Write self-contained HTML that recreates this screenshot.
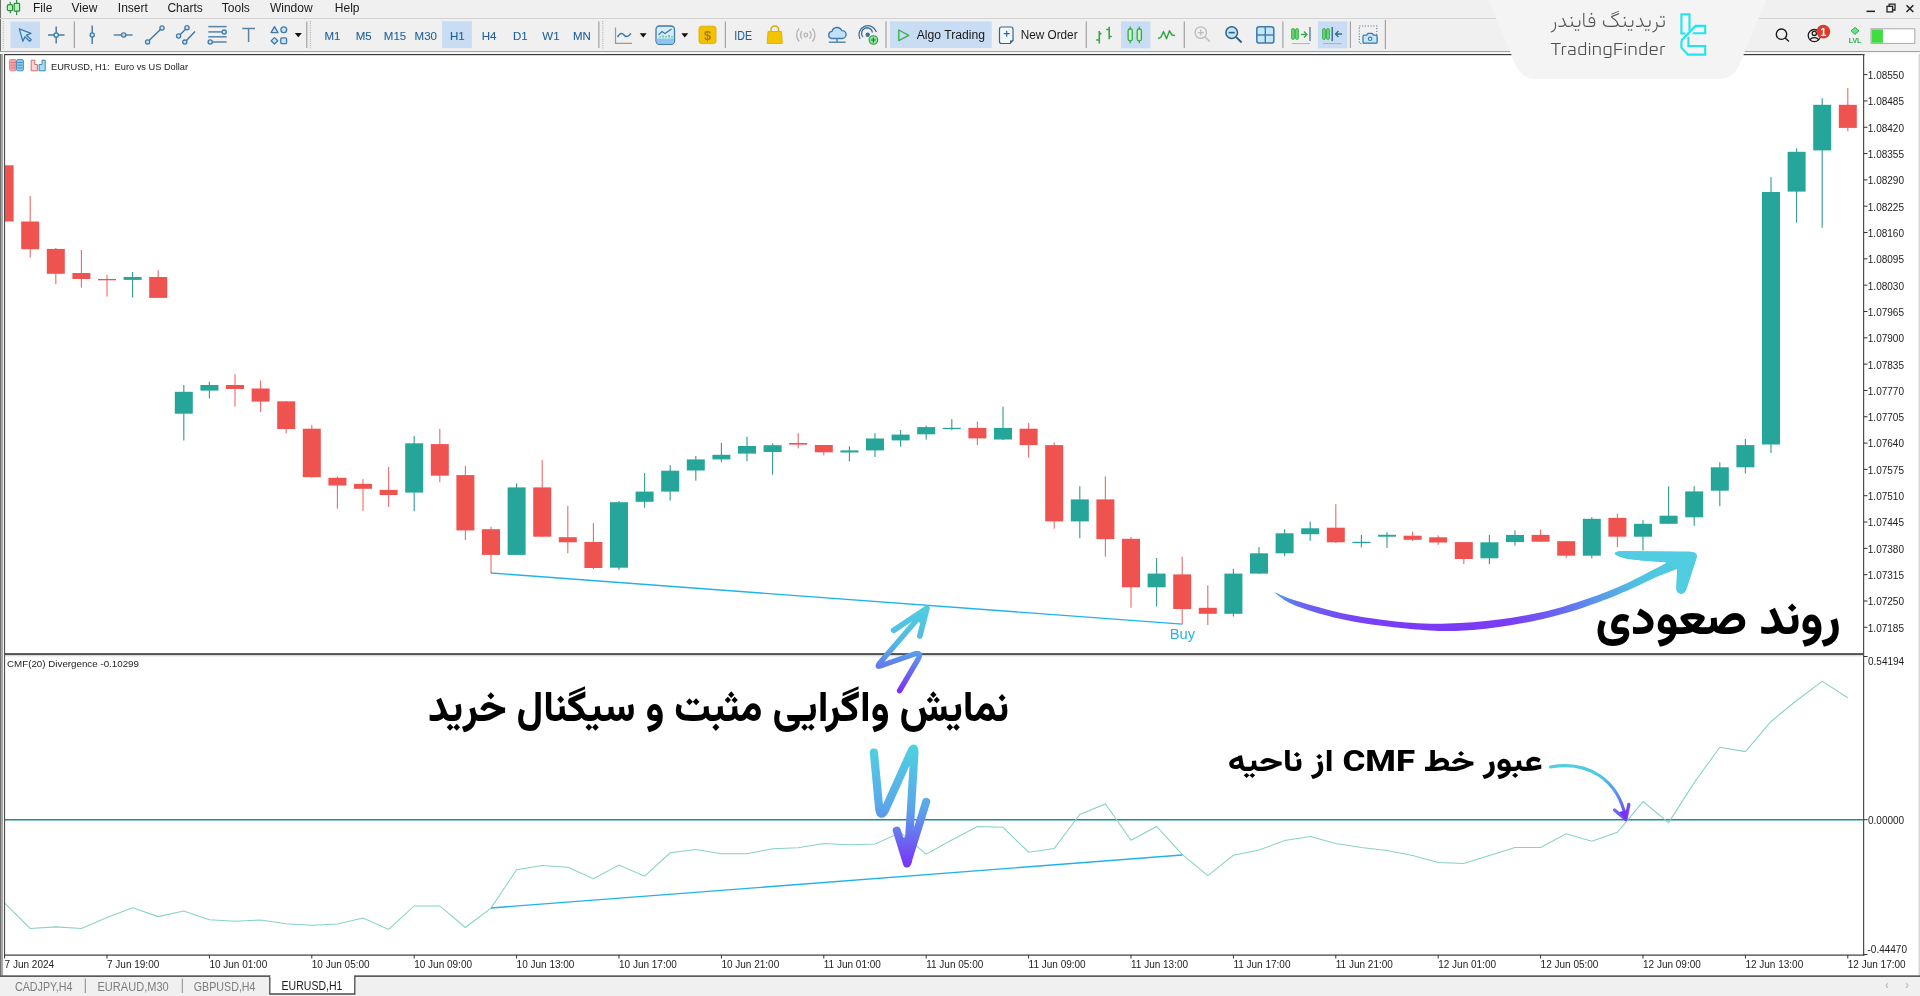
<!DOCTYPE html>
<html><head><meta charset="utf-8"><title>MT5 EURUSD H1 CMF Divergence</title>
<style>
html,body{margin:0;padding:0;width:1920px;height:996px;overflow:hidden;background:#f0f0f0;}
svg{position:absolute;left:0;top:0;display:block;will-change:transform}
text{font-family:"Liberation Sans",Arial,sans-serif;}
.ax{font-size:10px;fill:#222;}
.mn{font-size:12px;fill:#1a1a1a;}
.tf{font-size:11.5px;fill:#1f5e98;stroke:#1f5e98;stroke-width:0.08px;}
.fa{font-family:"Vazirmatn","DejaVu Sans",sans-serif;font-weight:800;fill:#000;}
</style></head><body>
<svg width="1920" height="996" viewBox="0 0 1920 996">
<defs>
<clipPath id="mainclip"><rect x="5" y="55.5" width="1858.5" height="597.5"/></clipPath>
<clipPath id="indclip"><rect x="5" y="655" width="1858.5" height="299.5"/></clipPath>
</defs>

<rect x="0" y="0" width="1920" height="996" fill="#f0f0f0"/>
<rect x="4" y="54" width="1915" height="922" fill="#ffffff"/>
<rect x="0" y="0" width="1" height="996" fill="#6e706e"/>
<rect x="1" y="52" width="2" height="944" fill="#a6a8a6"/>
<rect x="3" y="52" width="1" height="924" fill="#f5f7f5"/>
<rect x="1918.5" y="52" width="1.5" height="944" fill="#d6d6d6"/>
<rect x="0" y="18" width="1920" height="1" fill="#d2d2d2"/>
<rect x="0" y="51" width="1920" height="1" fill="#a0a0a0"/>
<rect x="0" y="52" width="1920" height="2" fill="#f7f7f7"/>
<g clip-path="url(#mainclip)"><rect x="4.02" y="165.3" width="1.15" height="56.2" fill="#ef6f72"/>
<rect x="-4.4" y="165.3" width="18" height="56.2" fill="#ef5350"/>
<rect x="29.63" y="195.8" width="1.15" height="61.9" fill="#ef6f72"/>
<rect x="21.2" y="221.5" width="18" height="27.7" fill="#ef5350"/>
<rect x="55.23" y="248" width="1.15" height="36.2" fill="#ef6f72"/>
<rect x="46.8" y="248.9" width="18" height="24.9" fill="#ef5350"/>
<rect x="80.83" y="250" width="1.15" height="37.5" fill="#ef6f72"/>
<rect x="72.4" y="273" width="18" height="6" fill="#ef5350"/>
<rect x="106.42" y="275" width="1.15" height="21.6" fill="#ef6f72"/>
<rect x="98" y="279" width="18" height="1.3" fill="#ef5350"/>
<rect x="132.03" y="272" width="1.15" height="25.6" fill="#3c9e94"/>
<rect x="123.6" y="277" width="18" height="2.9" fill="#26a69a"/>
<rect x="157.63" y="270.2" width="1.15" height="27.8" fill="#ef6f72"/>
<rect x="149.2" y="277" width="18" height="20.9" fill="#ef5350"/>
<rect x="183.23" y="385" width="1.15" height="55.5" fill="#3c9e94"/>
<rect x="174.8" y="391.8" width="18" height="21.9" fill="#26a69a"/>
<rect x="208.83" y="381.7" width="1.15" height="16.9" fill="#3c9e94"/>
<rect x="200.4" y="385" width="18" height="5.6" fill="#26a69a"/>
<rect x="234.43" y="374.2" width="1.15" height="32.4" fill="#ef6f72"/>
<rect x="226" y="385" width="18" height="4" fill="#ef5350"/>
<rect x="260.03" y="380.5" width="1.15" height="31.4" fill="#ef6f72"/>
<rect x="251.6" y="388.5" width="18" height="13.1" fill="#ef5350"/>
<rect x="285.63" y="401" width="1.15" height="32.3" fill="#ef6f72"/>
<rect x="277.2" y="401.3" width="18" height="27.7" fill="#ef5350"/>
<rect x="311.23" y="425" width="1.15" height="52.5" fill="#ef6f72"/>
<rect x="302.8" y="428.7" width="18" height="48.5" fill="#ef5350"/>
<rect x="336.83" y="476.5" width="1.15" height="32.2" fill="#ef6f72"/>
<rect x="328.4" y="477.8" width="18" height="7.7" fill="#ef5350"/>
<rect x="362.43" y="479.1" width="1.15" height="31.7" fill="#ef6f72"/>
<rect x="354" y="483.9" width="18" height="4.9" fill="#ef5350"/>
<rect x="388.03" y="466.9" width="1.15" height="40.1" fill="#ef6f72"/>
<rect x="379.6" y="489.9" width="18" height="5.1" fill="#ef5350"/>
<rect x="413.63" y="436" width="1.15" height="75.2" fill="#3c9e94"/>
<rect x="405.2" y="443.3" width="18" height="49.3" fill="#26a69a"/>
<rect x="439.23" y="428.8" width="1.15" height="53.5" fill="#ef6f72"/>
<rect x="430.8" y="444.1" width="18" height="31.6" fill="#ef5350"/>
<rect x="464.83" y="465.8" width="1.15" height="74.4" fill="#ef6f72"/>
<rect x="456.4" y="475.1" width="18" height="55.3" fill="#ef5350"/>
<rect x="490.43" y="526.7" width="1.15" height="46.3" fill="#ef6f72"/>
<rect x="482" y="529.2" width="18" height="25.7" fill="#ef5350"/>
<rect x="516.02" y="483.4" width="1.15" height="71.6" fill="#3c9e94"/>
<rect x="507.6" y="487.4" width="18" height="67.5" fill="#26a69a"/>
<rect x="541.62" y="460.1" width="1.15" height="76.9" fill="#ef6f72"/>
<rect x="533.2" y="487.4" width="18" height="49.3" fill="#ef5350"/>
<rect x="567.23" y="505.9" width="1.15" height="47.4" fill="#ef6f72"/>
<rect x="558.8" y="537.2" width="18" height="5.1" fill="#ef5350"/>
<rect x="592.83" y="523.2" width="1.15" height="45.8" fill="#ef6f72"/>
<rect x="584.4" y="542" width="18" height="26" fill="#ef5350"/>
<rect x="618.43" y="501" width="1.15" height="69" fill="#3c9e94"/>
<rect x="610" y="502.2" width="18" height="65.5" fill="#26a69a"/>
<rect x="644.02" y="472.9" width="1.15" height="34.9" fill="#3c9e94"/>
<rect x="635.6" y="491.6" width="18" height="10.2" fill="#26a69a"/>
<rect x="669.62" y="465.1" width="1.15" height="35.5" fill="#3c9e94"/>
<rect x="661.2" y="470.7" width="18" height="20.9" fill="#26a69a"/>
<rect x="695.23" y="456" width="1.15" height="24.7" fill="#3c9e94"/>
<rect x="686.8" y="459.4" width="18" height="11.1" fill="#26a69a"/>
<rect x="720.83" y="442.8" width="1.15" height="19.2" fill="#3c9e94"/>
<rect x="712.4" y="454.8" width="18" height="4.6" fill="#26a69a"/>
<rect x="746.43" y="436.7" width="1.15" height="24.5" fill="#3c9e94"/>
<rect x="738" y="446" width="18" height="7.6" fill="#26a69a"/>
<rect x="772.02" y="443.4" width="1.15" height="31.3" fill="#3c9e94"/>
<rect x="763.6" y="445.2" width="18" height="6.8" fill="#26a69a"/>
<rect x="797.62" y="432.9" width="1.15" height="15.4" fill="#ef6f72"/>
<rect x="789.2" y="443" width="18" height="1.6" fill="#ef5350"/>
<rect x="823.23" y="445" width="1.15" height="10.4" fill="#ef6f72"/>
<rect x="814.8" y="445" width="18" height="7.3" fill="#ef5350"/>
<rect x="848.83" y="446.3" width="1.15" height="15" fill="#3c9e94"/>
<rect x="840.4" y="450.4" width="18" height="2.1" fill="#26a69a"/>
<rect x="874.43" y="433.2" width="1.15" height="23.8" fill="#3c9e94"/>
<rect x="866" y="438.5" width="18" height="11.9" fill="#26a69a"/>
<rect x="900.02" y="430" width="1.15" height="16.7" fill="#3c9e94"/>
<rect x="891.6" y="434.6" width="18" height="5.8" fill="#26a69a"/>
<rect x="925.62" y="425.8" width="1.15" height="13.8" fill="#3c9e94"/>
<rect x="917.2" y="427.1" width="18" height="7.2" fill="#26a69a"/>
<rect x="951.23" y="419.1" width="1.15" height="11.2" fill="#3c9e94"/>
<rect x="942.8" y="427.8" width="18" height="1.3" fill="#26a69a"/>
<rect x="976.83" y="421.5" width="1.15" height="23.6" fill="#ef6f72"/>
<rect x="968.4" y="427.9" width="18" height="10.5" fill="#ef5350"/>
<rect x="1002.43" y="406.6" width="1.15" height="33.4" fill="#3c9e94"/>
<rect x="994" y="427.9" width="18" height="11.6" fill="#26a69a"/>
<rect x="1028.02" y="423.1" width="1.15" height="34.6" fill="#ef6f72"/>
<rect x="1019.6" y="428.7" width="18" height="16.4" fill="#ef5350"/>
<rect x="1053.62" y="442.4" width="1.15" height="86.3" fill="#ef6f72"/>
<rect x="1045.2" y="445.1" width="18" height="76.3" fill="#ef5350"/>
<rect x="1079.22" y="486.2" width="1.15" height="52.1" fill="#3c9e94"/>
<rect x="1070.8" y="499.4" width="18" height="22" fill="#26a69a"/>
<rect x="1104.82" y="476.4" width="1.15" height="80.3" fill="#ef6f72"/>
<rect x="1096.4" y="499.4" width="18" height="39.7" fill="#ef5350"/>
<rect x="1130.42" y="537" width="1.15" height="70.8" fill="#ef6f72"/>
<rect x="1122" y="538.8" width="18" height="48.5" fill="#ef5350"/>
<rect x="1156.02" y="558" width="1.15" height="48.5" fill="#3c9e94"/>
<rect x="1147.6" y="573.6" width="18" height="13.7" fill="#26a69a"/>
<rect x="1181.62" y="556.7" width="1.15" height="67.5" fill="#ef6f72"/>
<rect x="1173.2" y="574.4" width="18" height="34.6" fill="#ef5350"/>
<rect x="1207.22" y="585.3" width="1.15" height="39.7" fill="#ef6f72"/>
<rect x="1198.8" y="607.8" width="18" height="6" fill="#ef5350"/>
<rect x="1232.83" y="568.8" width="1.15" height="47.7" fill="#3c9e94"/>
<rect x="1224.4" y="573.6" width="18" height="40.2" fill="#26a69a"/>
<rect x="1258.42" y="547.1" width="1.15" height="26.9" fill="#3c9e94"/>
<rect x="1250" y="553.3" width="18" height="20.3" fill="#26a69a"/>
<rect x="1284.02" y="529.2" width="1.15" height="27.1" fill="#3c9e94"/>
<rect x="1275.6" y="533.3" width="18" height="20" fill="#26a69a"/>
<rect x="1309.62" y="521.5" width="1.15" height="19.3" fill="#3c9e94"/>
<rect x="1301.2" y="528.3" width="18" height="5.9" fill="#26a69a"/>
<rect x="1335.22" y="504.2" width="1.15" height="38.8" fill="#ef6f72"/>
<rect x="1326.8" y="527.7" width="18" height="14.6" fill="#ef5350"/>
<rect x="1360.83" y="534.8" width="1.15" height="12.7" fill="#3c9e94"/>
<rect x="1352.4" y="541.8" width="18" height="1.3" fill="#26a69a"/>
<rect x="1386.42" y="532.3" width="1.15" height="15.6" fill="#3c9e94"/>
<rect x="1378" y="534.8" width="18" height="1.9" fill="#26a69a"/>
<rect x="1412.02" y="531.5" width="1.15" height="9.5" fill="#ef6f72"/>
<rect x="1403.6" y="535.7" width="18" height="4.1" fill="#ef5350"/>
<rect x="1437.62" y="535.4" width="1.15" height="9.4" fill="#ef6f72"/>
<rect x="1429.2" y="537.3" width="18" height="5.2" fill="#ef5350"/>
<rect x="1463.22" y="542" width="1.15" height="22" fill="#ef6f72"/>
<rect x="1454.8" y="542.1" width="18" height="16.9" fill="#ef5350"/>
<rect x="1488.83" y="535" width="1.15" height="29.2" fill="#3c9e94"/>
<rect x="1480.4" y="542.3" width="18" height="16" fill="#26a69a"/>
<rect x="1514.42" y="530.4" width="1.15" height="15.3" fill="#3c9e94"/>
<rect x="1506" y="535" width="18" height="7.1" fill="#26a69a"/>
<rect x="1540.02" y="529.7" width="1.15" height="12.3" fill="#ef6f72"/>
<rect x="1531.6" y="534.9" width="18" height="6.8" fill="#ef5350"/>
<rect x="1565.62" y="541" width="1.15" height="16.9" fill="#ef6f72"/>
<rect x="1557.2" y="541.2" width="18" height="14.5" fill="#ef5350"/>
<rect x="1591.22" y="517.2" width="1.15" height="41.2" fill="#3c9e94"/>
<rect x="1582.8" y="518.8" width="18" height="36.9" fill="#26a69a"/>
<rect x="1616.83" y="513.6" width="1.15" height="33.7" fill="#ef6f72"/>
<rect x="1608.4" y="517.9" width="18" height="18.8" fill="#ef5350"/>
<rect x="1642.42" y="520.2" width="1.15" height="30.3" fill="#3c9e94"/>
<rect x="1634" y="523.8" width="18" height="12.9" fill="#26a69a"/>
<rect x="1668.02" y="486.3" width="1.15" height="37.7" fill="#3c9e94"/>
<rect x="1659.6" y="515.7" width="18" height="8.1" fill="#26a69a"/>
<rect x="1693.62" y="486.2" width="1.15" height="39.6" fill="#3c9e94"/>
<rect x="1685.2" y="491.4" width="18" height="25.9" fill="#26a69a"/>
<rect x="1719.22" y="462.1" width="1.15" height="44.1" fill="#3c9e94"/>
<rect x="1710.8" y="467.3" width="18" height="23.4" fill="#26a69a"/>
<rect x="1744.83" y="439" width="1.15" height="34.4" fill="#3c9e94"/>
<rect x="1736.4" y="445.1" width="18" height="22.2" fill="#26a69a"/>
<rect x="1770.42" y="177.1" width="1.15" height="275.9" fill="#3c9e94"/>
<rect x="1762" y="192" width="18" height="252.5" fill="#26a69a"/>
<rect x="1796.02" y="148.4" width="1.15" height="74.3" fill="#3c9e94"/>
<rect x="1787.6" y="151.8" width="18" height="39.8" fill="#26a69a"/>
<rect x="1821.62" y="98.2" width="1.15" height="129.6" fill="#3c9e94"/>
<rect x="1813.2" y="104.8" width="18" height="45.6" fill="#26a69a"/>
<rect x="1847.22" y="88.1" width="1.15" height="43.2" fill="#ef6f72"/>
<rect x="1838.8" y="104.8" width="18" height="23.1" fill="#ef5350"/></g>
<g clip-path="url(#indclip)">
<line x1="5" x2="1863.5" y1="819.7" y2="819.7" stroke="#1f8b8f" stroke-width="1.6"/>
<polyline points="4.6,903.1 30.2,928.4 55.8,926.9 81.4,928.5 107,917.5 132.6,907.75 158.2,916.6 183.8,911 209.4,919.75 235,921.25 260.6,920 286.2,923.75 311.8,925.25 337.4,924 363,918.1 388.6,929.4 414.2,905.9 439.8,905.9 465.4,927.5 491,908.1 516.6,869.75 542.2,865.6 567.8,867.25 593.4,878.75 619,865 644.6,876.25 670.2,852.75 695.8,849.5 721.4,853.75 747,853.75 772.6,848.75 798.2,847.75 823.8,843.5 849.4,844.75 875,844 900.6,832.5 926.2,854.2 951.8,840 977.4,826.5 1003,827.25 1028.6,852.25 1054.2,848.5 1079.8,814.4 1105.4,804 1131,840.25 1156.6,826.5 1182.2,854.4 1207.8,875.6 1233.4,855.25 1259,850 1284.6,840.6 1310.2,836.5 1335.8,843.5 1361.4,847.5 1387,850.5 1412.6,855.6 1438.2,862.5 1463.8,863.5 1489.4,855.6 1515,847.5 1540.6,847.5 1566.2,833.75 1591.8,841.25 1617.4,832.3 1643,801.6 1668.6,822.6 1694.2,782.6 1719.8,747.3 1745.4,751.6 1771,721.5 1796.6,700.5 1822.2,681.4 1847.8,697.7" fill="none" stroke="#86d2c6" stroke-width="1.05" stroke-linejoin="miter"/>
</g>
<rect x="4" y="54" width="1860.5" height="1.2" fill="#3c3c3c"/>
<rect x="4" y="54" width="1.1" height="901.5" fill="#4c4c4c"/>
<rect x="1863" y="54" width="1.2" height="901.5" fill="#4c4c4c"/>
<rect x="4" y="653.1" width="1860" height="2.1" fill="#505050"/><rect x="5" y="655.2" width="1858" height="1.2" fill="#dcdcdc"/>
<rect x="4" y="954.5" width="1860.5" height="1.2" fill="#3c3c3c"/>
<rect x="0" y="975.5" width="1920" height="1.4" fill="#5a5a5a"/>
<line x1="1864" x2="1867.5" y1="74.6" y2="74.6" stroke="#333" stroke-width="1"/>
<text x="1867.8" y="79" class="ax">1.08550</text>
<line x1="1864" x2="1867.5" y1="100.92" y2="100.92" stroke="#333" stroke-width="1"/>
<text x="1867.8" y="105.32" class="ax">1.08485</text>
<line x1="1864" x2="1867.5" y1="127.24" y2="127.24" stroke="#333" stroke-width="1"/>
<text x="1867.8" y="131.64" class="ax">1.08420</text>
<line x1="1864" x2="1867.5" y1="153.56" y2="153.56" stroke="#333" stroke-width="1"/>
<text x="1867.8" y="157.96" class="ax">1.08355</text>
<line x1="1864" x2="1867.5" y1="179.88" y2="179.88" stroke="#333" stroke-width="1"/>
<text x="1867.8" y="184.28" class="ax">1.08290</text>
<line x1="1864" x2="1867.5" y1="206.2" y2="206.2" stroke="#333" stroke-width="1"/>
<text x="1867.8" y="210.6" class="ax">1.08225</text>
<line x1="1864" x2="1867.5" y1="232.52" y2="232.52" stroke="#333" stroke-width="1"/>
<text x="1867.8" y="236.92" class="ax">1.08160</text>
<line x1="1864" x2="1867.5" y1="258.84" y2="258.84" stroke="#333" stroke-width="1"/>
<text x="1867.8" y="263.24" class="ax">1.08095</text>
<line x1="1864" x2="1867.5" y1="285.16" y2="285.16" stroke="#333" stroke-width="1"/>
<text x="1867.8" y="289.56" class="ax">1.08030</text>
<line x1="1864" x2="1867.5" y1="311.48" y2="311.48" stroke="#333" stroke-width="1"/>
<text x="1867.8" y="315.88" class="ax">1.07965</text>
<line x1="1864" x2="1867.5" y1="337.8" y2="337.8" stroke="#333" stroke-width="1"/>
<text x="1867.8" y="342.2" class="ax">1.07900</text>
<line x1="1864" x2="1867.5" y1="364.12" y2="364.12" stroke="#333" stroke-width="1"/>
<text x="1867.8" y="368.52" class="ax">1.07835</text>
<line x1="1864" x2="1867.5" y1="390.44" y2="390.44" stroke="#333" stroke-width="1"/>
<text x="1867.8" y="394.84" class="ax">1.07770</text>
<line x1="1864" x2="1867.5" y1="416.76" y2="416.76" stroke="#333" stroke-width="1"/>
<text x="1867.8" y="421.16" class="ax">1.07705</text>
<line x1="1864" x2="1867.5" y1="443.08" y2="443.08" stroke="#333" stroke-width="1"/>
<text x="1867.8" y="447.48" class="ax">1.07640</text>
<line x1="1864" x2="1867.5" y1="469.4" y2="469.4" stroke="#333" stroke-width="1"/>
<text x="1867.8" y="473.8" class="ax">1.07575</text>
<line x1="1864" x2="1867.5" y1="495.72" y2="495.72" stroke="#333" stroke-width="1"/>
<text x="1867.8" y="500.12" class="ax">1.07510</text>
<line x1="1864" x2="1867.5" y1="522.04" y2="522.04" stroke="#333" stroke-width="1"/>
<text x="1867.8" y="526.44" class="ax">1.07445</text>
<line x1="1864" x2="1867.5" y1="548.36" y2="548.36" stroke="#333" stroke-width="1"/>
<text x="1867.8" y="552.76" class="ax">1.07380</text>
<line x1="1864" x2="1867.5" y1="574.68" y2="574.68" stroke="#333" stroke-width="1"/>
<text x="1867.8" y="579.08" class="ax">1.07315</text>
<line x1="1864" x2="1867.5" y1="601" y2="601" stroke="#333" stroke-width="1"/>
<text x="1867.8" y="605.4" class="ax">1.07250</text>
<line x1="1864" x2="1867.5" y1="627.32" y2="627.32" stroke="#333" stroke-width="1"/>
<text x="1867.8" y="631.72" class="ax">1.07185</text>
<line x1="1864" x2="1867.5" y1="656.5" y2="656.5" stroke="#333" stroke-width="1"/>
<line x1="1864" x2="1867.5" y1="819.7" y2="819.7" stroke="#333" stroke-width="1"/>
<line x1="1864" x2="1867.5" y1="954.5" y2="954.5" stroke="#333" stroke-width="1"/>
<text x="1868" y="664.6" class="ax">0.54194</text>
<text x="1868" y="823.5" class="ax">0.00000</text>
<text x="1867.5" y="953.3" class="ax">-0.44470</text>
<line x1="4.6" x2="4.6" y1="955" y2="958.5" stroke="#333" stroke-width="1"/>
<text x="4.6" y="967.6" class="ax">7 Jun 2024</text>
<line x1="107" x2="107" y1="955" y2="958.5" stroke="#333" stroke-width="1"/>
<text x="107" y="967.6" class="ax">7 Jun 19:00</text>
<line x1="209.4" x2="209.4" y1="955" y2="958.5" stroke="#333" stroke-width="1"/>
<text x="209.4" y="967.6" class="ax">10 Jun 01:00</text>
<line x1="311.8" x2="311.8" y1="955" y2="958.5" stroke="#333" stroke-width="1"/>
<text x="311.8" y="967.6" class="ax">10 Jun 05:00</text>
<line x1="414.2" x2="414.2" y1="955" y2="958.5" stroke="#333" stroke-width="1"/>
<text x="414.2" y="967.6" class="ax">10 Jun 09:00</text>
<line x1="516.6" x2="516.6" y1="955" y2="958.5" stroke="#333" stroke-width="1"/>
<text x="516.6" y="967.6" class="ax">10 Jun 13:00</text>
<line x1="619" x2="619" y1="955" y2="958.5" stroke="#333" stroke-width="1"/>
<text x="619" y="967.6" class="ax">10 Jun 17:00</text>
<line x1="721.4" x2="721.4" y1="955" y2="958.5" stroke="#333" stroke-width="1"/>
<text x="721.4" y="967.6" class="ax">10 Jun 21:00</text>
<line x1="823.8" x2="823.8" y1="955" y2="958.5" stroke="#333" stroke-width="1"/>
<text x="823.8" y="967.6" class="ax">11 Jun 01:00</text>
<line x1="926.2" x2="926.2" y1="955" y2="958.5" stroke="#333" stroke-width="1"/>
<text x="926.2" y="967.6" class="ax">11 Jun 05:00</text>
<line x1="1028.6" x2="1028.6" y1="955" y2="958.5" stroke="#333" stroke-width="1"/>
<text x="1028.6" y="967.6" class="ax">11 Jun 09:00</text>
<line x1="1131" x2="1131" y1="955" y2="958.5" stroke="#333" stroke-width="1"/>
<text x="1131" y="967.6" class="ax">11 Jun 13:00</text>
<line x1="1233.4" x2="1233.4" y1="955" y2="958.5" stroke="#333" stroke-width="1"/>
<text x="1233.4" y="967.6" class="ax">11 Jun 17:00</text>
<line x1="1335.8" x2="1335.8" y1="955" y2="958.5" stroke="#333" stroke-width="1"/>
<text x="1335.8" y="967.6" class="ax">11 Jun 21:00</text>
<line x1="1438.2" x2="1438.2" y1="955" y2="958.5" stroke="#333" stroke-width="1"/>
<text x="1438.2" y="967.6" class="ax">12 Jun 01:00</text>
<line x1="1540.6" x2="1540.6" y1="955" y2="958.5" stroke="#333" stroke-width="1"/>
<text x="1540.6" y="967.6" class="ax">12 Jun 05:00</text>
<line x1="1643" x2="1643" y1="955" y2="958.5" stroke="#333" stroke-width="1"/>
<text x="1643" y="967.6" class="ax">12 Jun 09:00</text>
<line x1="1745.4" x2="1745.4" y1="955" y2="958.5" stroke="#333" stroke-width="1"/>
<text x="1745.4" y="967.6" class="ax">12 Jun 13:00</text>
<line x1="1847.8" x2="1847.8" y1="955" y2="958.5" stroke="#333" stroke-width="1"/>
<text x="1847.8" y="967.6" class="ax">12 Jun 17:00</text>
<text x="51" y="69.8" class="ax" style="font-size:9.6px" textLength="137" lengthAdjust="spacingAndGlyphs">EURUSD, H1:&#160; Euro vs US Dollar</text>
<text x="7" y="667.2" class="ax" style="font-size:9.6px" textLength="132" lengthAdjust="spacingAndGlyphs">CMF(20) Divergence -0.10299</text>
<text x="33" y="12.4" class="mn">File</text>
<text x="71.5" y="12.4" class="mn">View</text>
<text x="117.8" y="12.4" class="mn">Insert</text>
<text x="167.4" y="12.4" class="mn">Charts</text>
<text x="221.8" y="12.4" class="mn">Tools</text>
<text x="269.9" y="12.4" class="mn">Window</text>
<text x="334.8" y="12.4" class="mn">Help</text>
<g stroke="#2f8f3f" stroke-width="1.2" fill="#b4f5bc"><line x1="10.3" y1="1.8" x2="10.3" y2="13.2"/><rect x="7.4" y="4.6" width="5.2" height="6" rx="1.2"/><line x1="16.6" y1="0" x2="16.6" y2="15"/><rect x="14.2" y="3.4" width="5.4" height="7.8" rx="0.8"/></g>
<rect x="1866.5" y="10.6" width="8.5" height="1.5" fill="#222"/>
<g fill="none" stroke="#222" stroke-width="1.3"><rect x="1887" y="6.3" width="5.6" height="5.6"/><path d="M1889.2 6.3V4.2h5.8v5.8h-2.4"/></g>
<path d="M1906.5 5.3L1913.3 12M1913.3 5.3L1906.5 12" stroke="#222" stroke-width="1.5"/>
<rect x="2.7" y="21" width="1" height="1" fill="#a8a8a8"/><rect x="2.7" y="23.2" width="1" height="1" fill="#a8a8a8"/><rect x="2.7" y="25.4" width="1" height="1" fill="#a8a8a8"/><rect x="2.7" y="27.6" width="1" height="1" fill="#a8a8a8"/><rect x="2.7" y="29.8" width="1" height="1" fill="#a8a8a8"/><rect x="2.7" y="32" width="1" height="1" fill="#a8a8a8"/><rect x="2.7" y="34.2" width="1" height="1" fill="#a8a8a8"/><rect x="2.7" y="36.4" width="1" height="1" fill="#a8a8a8"/><rect x="2.7" y="38.6" width="1" height="1" fill="#a8a8a8"/><rect x="2.7" y="40.8" width="1" height="1" fill="#a8a8a8"/><rect x="2.7" y="43" width="1" height="1" fill="#a8a8a8"/><rect x="2.7" y="45.2" width="1" height="1" fill="#a8a8a8"/><rect x="2.7" y="47.4" width="1" height="1" fill="#a8a8a8"/>
<rect x="10.5" y="21.5" width="29.5" height="26.5" fill="#c8ddf3"/>
<path d="M19.3 28.8L31 33.3L26.4 35.2L31.2 39.8L29.6 41.3L24.9 36.7L22.9 41.3Z" fill="#c5e6fb" stroke="#3f7aab" stroke-width="1.3" stroke-linejoin="round"/>
<line x1="48" y1="35" x2="64.5" y2="35" stroke="#4b7ea6" stroke-width="1.5"/><line x1="56.2" y1="26.5" x2="56.2" y2="43.5" stroke="#4b7ea6" stroke-width="1.5"/><circle cx="56.2" cy="35" r="2.2" fill="#d8f0ff" stroke="#3a7ab0" stroke-width="1.3"/>
<rect x="73.8" y="21.5" width="1.2" height="26.5" fill="#a2a2a2"/>
<line x1="92.2" y1="25.5" x2="92.2" y2="44" stroke="#4b7ea6" stroke-width="1.5"/><circle cx="92.2" cy="35" r="2.1" fill="#c5e6fb" stroke="#3f7aab" stroke-width="1.3"/>
<line x1="113.7" y1="35" x2="132.6" y2="35" stroke="#5a84a6" stroke-width="1.5"/><circle cx="123.7" cy="35" r="2.1" fill="#c5e6fb" stroke="#3f7aab" stroke-width="1.3"/>
<line x1="148" y1="41.5" x2="161.5" y2="28.5" stroke="#3f7aab" stroke-width="1.5"/><circle cx="147.6" cy="42" r="2.1" fill="#c5e6fb" stroke="#3f7aab" stroke-width="1.3"/><circle cx="162" cy="28" r="2.1" fill="#c5e6fb" stroke="#3f7aab" stroke-width="1.3"/>
<line x1="179" y1="35.7" x2="186.5" y2="28.3" stroke="#3f7aab" stroke-width="1.5"/><line x1="185.5" y1="41.5" x2="195" y2="31.5" stroke="#3f7aab" stroke-width="1.5"/><circle cx="178.6" cy="36" r="2.1" fill="#c5e6fb" stroke="#3f7aab" stroke-width="1.3"/><circle cx="187" cy="27.8" r="2.1" fill="#c5e6fb" stroke="#3f7aab" stroke-width="1.3"/><circle cx="184.8" cy="42.1" r="2.1" fill="#c5e6fb" stroke="#3f7aab" stroke-width="1.3"/>
<line x1="208.3" y1="26.6" x2="226.6" y2="26.6" stroke="#5a84a6" stroke-width="1.5"/><line x1="208.3" y1="31.9" x2="222" y2="31.9" stroke="#5a84a6" stroke-width="1.5"/><line x1="208.3" y1="36.8" x2="226.6" y2="36.8" stroke="#5a84a6" stroke-width="1.5"/><line x1="212" y1="42" x2="226.6" y2="42" stroke="#5a84a6" stroke-width="1.5"/><circle cx="224.2" cy="32.1" r="2.1" fill="#c5e6fb" stroke="#3f7aab" stroke-width="1.3"/><circle cx="210.2" cy="42" r="2.1" fill="#c5e6fb" stroke="#3f7aab" stroke-width="1.3"/>
<path d="M242.3 28.6H255M248.6 28.6V42" stroke="#5a84a6" stroke-width="1.5" fill="none"/>
<path d="M274.5 26.6L278 32.6H271Z" fill="#c5e6fb" stroke="#3f7aab" stroke-width="1.3" stroke-linejoin="round"/>
<circle cx="283.8" cy="29.8" r="2.9" fill="#c5e6fb" stroke="#3f7aab" stroke-width="1.3"/>
<path d="M274.5 37.6L277.8 40.8L274.5 44L271.2 40.8Z" fill="#c5e6fb" stroke="#3f7aab" stroke-width="1.3" stroke-linejoin="round"/>
<rect x="280.8" y="37.9" width="5.8" height="5.8" rx="1.2" fill="#c5e6fb" stroke="#3f7aab" stroke-width="1.3"/>
<path d="M294.8 33.1L301.8 33.1L298.3 37.3Z" fill="#111"/>
<rect x="306.2" y="21.5" width="1.2" height="26.5" fill="#a2a2a2"/><rect x="309.9" y="21" width="1" height="1" fill="#a8a8a8"/><rect x="309.9" y="23.2" width="1" height="1" fill="#a8a8a8"/><rect x="309.9" y="25.4" width="1" height="1" fill="#a8a8a8"/><rect x="309.9" y="27.6" width="1" height="1" fill="#a8a8a8"/><rect x="309.9" y="29.8" width="1" height="1" fill="#a8a8a8"/><rect x="309.9" y="32" width="1" height="1" fill="#a8a8a8"/><rect x="309.9" y="34.2" width="1" height="1" fill="#a8a8a8"/><rect x="309.9" y="36.4" width="1" height="1" fill="#a8a8a8"/><rect x="309.9" y="38.6" width="1" height="1" fill="#a8a8a8"/><rect x="309.9" y="40.8" width="1" height="1" fill="#a8a8a8"/><rect x="309.9" y="43" width="1" height="1" fill="#a8a8a8"/><rect x="309.9" y="45.2" width="1" height="1" fill="#a8a8a8"/><rect x="309.9" y="47.4" width="1" height="1" fill="#a8a8a8"/>
<text x="324.5" y="40.2" class="tf">M1</text>
<text x="355.7" y="40.2" class="tf">M5</text>
<text x="383.8" y="40.2" class="tf">M15</text>
<text x="414.6" y="40.2" class="tf">M30</text>
<text x="481.7" y="40.2" class="tf">H4</text>
<text x="513" y="40.2" class="tf">D1</text>
<text x="542.3" y="40.2" class="tf">W1</text>
<text x="572.9" y="40.2" class="tf">MN</text>
<rect x="442.2" y="21.1" width="29.7" height="27.1" fill="#c8ddf3"/>
<text x="450" y="40.2" class="tf">H1</text>
<rect x="598.3" y="21.5" width="1.2" height="26.5" fill="#a2a2a2"/><rect x="602.3" y="21" width="1" height="1" fill="#a8a8a8"/><rect x="602.3" y="23.2" width="1" height="1" fill="#a8a8a8"/><rect x="602.3" y="25.4" width="1" height="1" fill="#a8a8a8"/><rect x="602.3" y="27.6" width="1" height="1" fill="#a8a8a8"/><rect x="602.3" y="29.8" width="1" height="1" fill="#a8a8a8"/><rect x="602.3" y="32" width="1" height="1" fill="#a8a8a8"/><rect x="602.3" y="34.2" width="1" height="1" fill="#a8a8a8"/><rect x="602.3" y="36.4" width="1" height="1" fill="#a8a8a8"/><rect x="602.3" y="38.6" width="1" height="1" fill="#a8a8a8"/><rect x="602.3" y="40.8" width="1" height="1" fill="#a8a8a8"/><rect x="602.3" y="43" width="1" height="1" fill="#a8a8a8"/><rect x="602.3" y="45.2" width="1" height="1" fill="#a8a8a8"/><rect x="602.3" y="47.4" width="1" height="1" fill="#a8a8a8"/>
<path d="M615.5 27.5V43.3H632" stroke="#9a9a9a" stroke-width="1.2" fill="none"/>
<path d="M617.5 37C620 33 622 32.5 624 35C626 37.5 628 37 631 33.5" stroke="#3f7aab" stroke-width="1.5" fill="none"/>
<path d="M639.7 33.2L646.7 33.2L643.2 37.4Z" fill="#111"/>
<rect x="656" y="26" width="18.5" height="18.3" rx="3.5" fill="#d5ecfb" stroke="#3f7aab" stroke-width="1.3"/>
<path d="M656.6 38.5H673.9V41a3 3 0 0 1-3 3h-11.3a3 3 0 0 1-3-3Z" fill="#8cc5ec"/>
<path d="M658.5 35L662 31.5L665 33.5L671.5 29" stroke="#3f7aab" stroke-width="1.2" fill="none"/>
<path d="M660 37.5v-1M663 37.5v-2M666 37.5v-1.5M669 37.5v-2.5M672 37.5v-1.5" stroke="#3caa4a" stroke-width="1.1"/>
<path d="M681.3 33.2L688.3 33.2L684.8 37.4Z" fill="#111"/>
<rect x="699" y="26.2" width="17" height="17.4" rx="2.5" fill="#f2c200" stroke="#d9a800" stroke-width="0.8"/>
<text x="707.5" y="40.3" text-anchor="middle" style="font-size:13px;font-weight:bold;fill:#b07a00">$</text>
<rect x="724.8" y="21.5" width="1.2" height="26.5" fill="#a2a2a2"/>
<text x="734.3" y="39.7" class="tf" style="font-size:12.5px" textLength="17.8" lengthAdjust="spacingAndGlyphs">IDE</text>
<path d="M768 31.5H781.5L782.3 43.5H767.2Z" fill="#f2c500" stroke="#d8a900" stroke-width="0.8"/>
<path d="M771 31.5V29.3a3.8 3.3 0 0 1 7.6 0V31.5" stroke="#d8a900" stroke-width="1.5" fill="none"/>
<g fill="none" stroke="#b4b4b4" stroke-width="1.3"><circle cx="805.8" cy="35" r="1.8"/><path d="M802 31.2a5.5 5.5 0 0 0 0 7.6M809.6 31.2a5.5 5.5 0 0 1 0 7.6M799.2 28.5a9.5 9.5 0 0 0 0 13M812.4 28.5a9.5 9.5 0 0 1 0 13"/></g>
<path d="M831.5 38.5a3.6 3.6 0 0 1 0.5-7.1a5.2 5.2 0 0 1 9.8-0.8a3.9 3.9 0 0 1 0.6 7.9Z" fill="#bfe2fa" stroke="#3f7aab" stroke-width="1.3"/>
<line x1="837" y1="38.5" x2="837" y2="42" stroke="#3f7aab" stroke-width="1.3"/><line x1="828.8" y1="42.2" x2="845.6" y2="42.2" stroke="#3f7aab" stroke-width="1.3"/>
<g fill="none" stroke="#3f6f98" stroke-width="1.3"><path d="M860 39a9 9 0 1 1 16.5-7"/><path d="M863 37a5.5 5.5 0 1 1 9.5-4.5"/></g>
<circle cx="867.7" cy="34.7" r="1.6" fill="#3f6f98" stroke="#3f6f98" stroke-width="1.2"/>
<circle cx="873.4" cy="40" r="4.3" fill="#8fe39a" stroke="#2f9c44" stroke-width="1.1"/>
<path d="M873.4 37.6v4.8M871 40h4.8" stroke="#1f7f34" stroke-width="1.2"/>
<rect x="885.4" y="21.5" width="1.2" height="26.5" fill="#a2a2a2"/>
<rect x="889.9" y="21.3" width="101.8" height="26.7" fill="#c8ddf3"/>
<path d="M898.8 30L908.7 35.3L898.8 40.6Z" fill="none" stroke="#3cb04f" stroke-width="1.4" stroke-linejoin="round"/>
<text x="916.7" y="39.4" class="mn" textLength="68.4" lengthAdjust="spacingAndGlyphs">Algo Trading</text>
<path d="M1001.5 27h9.5a2 2 0 0 1 2 2v11.5l-3 3h-8.5a2 2 0 0 1-2-2V29a2 2 0 0 1 2-2Z" fill="#f4f9fd" stroke="#2e6593" stroke-width="1.2"/>
<path d="M1010 43.5l3-3h-3Z" fill="#2e6593"/>
<path d="M1006.7 30.7v6M1003.7 33.7h6" stroke="#2e6593" stroke-width="1.2"/>
<text x="1020.7" y="39.4" class="mn" textLength="56.9" lengthAdjust="spacingAndGlyphs">New Order</text>
<rect x="1085.7" y="21.5" width="1.2" height="26.5" fill="#a2a2a2"/>
<g stroke="#35a845" stroke-width="1.6" fill="none"><path d="M1099.3 31v12.5M1096.2 40h3.1M1099.3 33.6h2.2"/><path d="M1109.2 26.8v12.5M1106.2 29.5h3M1109.2 36.5h2.6"/></g>
<rect x="1121" y="21.3" width="29.4" height="27.1" fill="#c8ddf3"/>
<g stroke="#35a845" stroke-width="1.3" fill="#c9f7c8"><path d="M1130.2 26.5v16.8M1139.3 26.5v16.8"/><rect x="1128.1" y="29" width="4.2" height="11.8" rx="1.8"/><rect x="1137.2" y="29" width="4.2" height="11.8" rx="1.8"/></g>
<path d="M1158 38.5L1160.8 37.4L1163.5 31.5L1166.5 38.8L1169.5 30.8L1172 35L1175 35.6" stroke="#35a845" stroke-width="1.5" fill="none" stroke-linejoin="round"/>
<rect x="1183.7" y="21.5" width="1.2" height="26.5" fill="#a2a2a2"/>
<g fill="none" stroke="#bdbdbd" stroke-width="1.4"><circle cx="1200.8" cy="32.6" r="5.7"/><path d="M1204.9 36.8l5 5M1200.8 29.6v6M1197.8 32.6h6"/></g>
<circle cx="1231.7" cy="32.6" r="5.8" fill="#c3e6fb" stroke="#2f5f86" stroke-width="1.5"/>
<path d="M1235.9 36.8l5.7 5.7" stroke="#2f5f86" stroke-width="1.9"/><path d="M1228.6 32.6h6.2" stroke="#2f5f86" stroke-width="1.6"/>
<rect x="1256.8" y="26.8" width="17" height="16.3" rx="2.4" fill="#c6e7fb" stroke="#3f7aab" stroke-width="1.5"/>
<line x1="1265.3" y1="27" x2="1265.3" y2="43" stroke="#3f7aab" stroke-width="1.4"/><line x1="1257" y1="35" x2="1273.6" y2="35" stroke="#3f7aab" stroke-width="1.4"/>
<rect x="1282.3" y="21.5" width="1.2" height="26.5" fill="#a2a2a2"/>
<g fill="#5fd66c" stroke="#3aa84b" stroke-width="0.8"><rect x="1291.5" y="28.5" width="3" height="11" rx="1.4"/><rect x="1295.5" y="28.5" width="3" height="11" rx="1.4"/></g>
<path d="M1301 34.5h5.5M1304 31.5l3 3l-3 3" stroke="#3aa84b" stroke-width="1.3" fill="none"/>
<line x1="1310" y1="27" x2="1310" y2="41" stroke="#4d6f8f" stroke-width="1.3"/>
<line x1="1292" y1="43.6" x2="1310" y2="43.6" stroke="#9aa4ad" stroke-width="0.8"/>
<rect x="1317.9" y="21.3" width="29.6" height="27.1" fill="#c8ddf3"/>
<g fill="#5fd66c" stroke="#3aa84b" stroke-width="0.8"><rect x="1322.5" y="28.5" width="3" height="11" rx="1.4"/><rect x="1326.5" y="28.5" width="3" height="11" rx="1.4"/></g>
<line x1="1332.2" y1="27" x2="1332.2" y2="41" stroke="#2f5f86" stroke-width="1.3"/>
<path d="M1342 34h-6.5M1338.5 31l-3 3l3 3" stroke="#2f6f8f" stroke-width="1.3" fill="none"/>
<line x1="1323" y1="43.6" x2="1341.5" y2="43.6" stroke="#9aa4ad" stroke-width="0.8"/>
<rect x="1349.8" y="21.5" width="1.2" height="26.5" fill="#a2a2a2"/>
<rect x="1359.3" y="26" width="17.5" height="17.5" fill="none" stroke="#5a7a98" stroke-width="1.1" stroke-dasharray="1.2 1.6"/>
<path d="M1364.3 35.2h2.4l1.3-1.9h4.2l1.3 1.9h2.3a1.3 1.3 0 0 1 1.3 1.3v5.4a1.3 1.3 0 0 1-1.3 1.3h-11.5a1.3 1.3 0 0 1-1.3-1.3v-5.4a1.3 1.3 0 0 1 1.3-1.3Z" fill="#c3e6fb" stroke="#3f7aab" stroke-width="1.3"/>
<circle cx="1370.1" cy="38.8" r="1.7" fill="#fff" stroke="#3f7aab" stroke-width="1.2"/>
<rect x="1384.8" y="20" width="1.2" height="29" fill="#a2a2a2"/>
<g fill="none" stroke="#1c1c1c" stroke-width="1.4"><circle cx="1781.5" cy="34.2" r="5.2"/><path d="M1785.3 38l3.6 3.6"/></g>
<g fill="none" stroke="#1c1c1c" stroke-width="1.3"><circle cx="1814.3" cy="35.6" r="6.1"/><circle cx="1814.3" cy="33.4" r="2.1"/><path d="M1809.9 39.8a5 4 0 0 1 8.8 0"/></g>
<circle cx="1823.3" cy="31.6" r="6.9" fill="#e0382b"/>
<text x="1823.3" y="35.8" text-anchor="middle" style="font-size:11px;font-weight:bold;fill:#fff">1</text>
<path d="M1855 27.4l4 3.4l-4 3.6l-4-3.6Z" fill="#6fe08a" stroke="#2fb04e" stroke-width="1"/>
<text x="1855" y="43" text-anchor="middle" style="font-size:7px;font-weight:bold;fill:#2fae4c">LVL</text>
<rect x="1871" y="28.8" width="43.8" height="14.6" fill="#fff" stroke="#a8a8a8" stroke-width="1"/>
<rect x="1871.6" y="29.4" width="11.3" height="13.4" fill="#3fdc44"/>
<rect x="9.6" y="59.6" width="6.6" height="11.2" rx="1.3" fill="#f7a9ad" stroke="#e07880" stroke-width="0.9"/>
<rect x="16.6" y="59.6" width="6.8" height="11.2" rx="1.3" fill="#8fd0f2" stroke="#3b86b0" stroke-width="0.9"/>
<path d="M10.8 62.5h5M10.8 65.2h5M10.8 67.9h5" stroke="#e8626c" stroke-width="0.9"/>
<path d="M17.6 62.5h5M17.6 65.2h5M17.6 67.9h5" stroke="#2f7fb0" stroke-width="0.9"/>
<path d="M31.2 60.2h3.6v4.3h2.6v6.3h-6.2Z" fill="#fbd3d3" stroke="#d36a6a" stroke-width="1"/>
<path d="M45.2 60.2h-3.2v4.3h-2.9v6.3h6.1Z" fill="#a9dcf6" stroke="#3a86b5" stroke-width="1"/>
<rect x="0" y="977" width="1920" height="19" fill="#f0f0f0"/>
<rect x="0" y="975.6" width="1920" height="1.4" fill="#5c5c5c"/>
<text x="15" y="990.6" style="font-size:12px;fill:#7d7d7d" textLength="57.5" lengthAdjust="spacingAndGlyphs">CADJPY,H4</text>
<text x="97.5" y="990.6" style="font-size:12px;fill:#7d7d7d" textLength="71.2" lengthAdjust="spacingAndGlyphs">EURAUD,M30</text>
<text x="193.8" y="990.6" style="font-size:12px;fill:#7d7d7d" textLength="61.7" lengthAdjust="spacingAndGlyphs">GBPUSD,H4</text>
<rect x="84.8" y="978.5" width="1" height="14.5" fill="#8a8a8a"/>
<rect x="181.8" y="978.5" width="1" height="14.5" fill="#8a8a8a"/>
<path d="M269.8 975.6V994H354.8V975.6" fill="#ffffff" stroke="#4a4a4a" stroke-width="1.3"/>
<rect x="270.5" y="975" width="83.6" height="2.2" fill="#ffffff"/>
<text x="281.6" y="990.3" style="font-size:12px;fill:#1a1a1a" textLength="60.9" lengthAdjust="spacingAndGlyphs">EURUSD,H1</text>
<path d="M1887.8 983.2l-1.6 2.4l1.6 2.4M1906.2 983.2l1.6 2.4l-1.6 2.4" stroke="#c4c4c4" stroke-width="1.4" fill="none"/>
<defs><linearGradient id="g1" gradientUnits="userSpaceOnUse" x1="0" y1="606" x2="0" y2="692"><stop offset="0" stop-color="#4fd0e0"/><stop offset="0.45" stop-color="#52b6e6"/><stop offset="1" stop-color="#7a2ff7"/></linearGradient><linearGradient id="g2" gradientUnits="userSpaceOnUse" x1="0" y1="748" x2="0" y2="868"><stop offset="0" stop-color="#4fd0e0"/><stop offset="0.5" stop-color="#5aa6ea"/><stop offset="1" stop-color="#7a2ff7"/></linearGradient><linearGradient id="g3" gradientUnits="userSpaceOnUse" x1="1550" y1="766" x2="1628" y2="822"><stop offset="0" stop-color="#4fd0e0"/><stop offset="0.5" stop-color="#4fc8e2"/><stop offset="0.75" stop-color="#5a8eee"/><stop offset="1" stop-color="#7a2ff7"/></linearGradient><linearGradient id="g4" gradientUnits="userSpaceOnUse" x1="1273" y1="0" x2="1700" y2="0"><stop offset="0" stop-color="#4aa2e8"/><stop offset="0.063" stop-color="#6868f2"/><stop offset="0.18" stop-color="#7546f6"/><stop offset="0.3" stop-color="#7a3af6"/><stop offset="0.55" stop-color="#7a3cf6"/><stop offset="0.67" stop-color="#6a66f0"/><stop offset="0.76" stop-color="#5898ea"/><stop offset="0.86" stop-color="#4fc4e0"/><stop offset="1" stop-color="#50cfe0"/></linearGradient></defs>
<line x1="491" y1="573" x2="1182.2" y2="624.2" stroke="#1fb3ea" stroke-width="1.35"/>
<line x1="491" y1="908" x2="1182.2" y2="855" stroke="#1fb3ea" stroke-width="1.35"/>
<text x="1169.8" y="639" style="font-size:15px;fill:#2db2e4" textLength="25.4" lengthAdjust="spacingAndGlyphs">Buy</text>
<path d="M899.6 690.6L918.3 658.8Q921.8 652.3 915.2 653.7L882.2 665.3Q875 668.3 880.6 662L926.6 608.6" fill="none" stroke="url(#g1)" stroke-width="5.4" stroke-linecap="round" stroke-linejoin="round"/>
<path d="M893.6 630.3L927 608.2L919.8 636" fill="none" stroke="url(#g1)" stroke-width="5.6" stroke-linecap="round" stroke-linejoin="round"/>
<path d="M912 618L927 608.2L922 624Z" fill="url(#g1)"/>
<path d="M873.9 752.5L879.3 809.5Q880.8 817.5 884.8 810.5L911.2 751.8Q914.8 744.8 914.4 753L907.8 861" fill="none" stroke="url(#g2)" stroke-width="8.2" stroke-linecap="round" stroke-linejoin="round"/>
<path d="M896.8 830.5L907 863.5L926.2 801.8" fill="none" stroke="url(#g2)" stroke-width="8" stroke-linecap="round" stroke-linejoin="round"/>
<path d="M900 838L907 862L915 836Z" fill="url(#g2)"/>
<path d="M1550.5 767C1588 760 1618 780 1625.5 817" fill="none" stroke="url(#g3)" stroke-width="3.2" stroke-linecap="round"/>
<path d="M1614.5 810L1625.8 819.5L1628.8 804.5" fill="none" stroke="url(#g3)" stroke-width="3.4" stroke-linecap="round" stroke-linejoin="round"/>
<path d="M1619 812L1625.8 819.5L1627.5 810Z" fill="#7a2ff7"/>
<path d="M1272.8 591.5C1276.72 593.05 1283.72 596.98 1296.3 600.8C1308.88 604.62 1329.22 610.75 1348.3 614.4C1367.38 618.05 1392.18 621.27 1410.8 622.7C1429.42 624.13 1443.13 623.82 1460 623C1476.87 622.18 1494.67 620.57 1512 617.8C1529.33 615.03 1546.67 611.35 1564 606.4C1581.33 601.45 1600 594.78 1616 588.1C1632 581.42 1651.62 570.6 1660 566.3C1668.38 562 1665.25 562.97 1666.3 562.3L1642 560.5C1630 559.5 1620 558.5 1614.5 553.6C1616 551.5 1619 551.3 1624 551.3L1690.4 551.7C1695.5 552 1697.8 554.5 1696.6 557.5L1686.7 588.2C1685.3 592.6 1682.5 594.3 1680 593.6C1677.3 592.8 1676.3 591 1676.4 588.5L1677.1 568.9C1674.25 570.02 1670.18 571.18 1660 575.6C1649.82 580.02 1632 589.07 1616 595.4C1600 601.73 1581.33 608.65 1564 613.6C1546.67 618.55 1529.33 622.23 1512 625.1C1494.67 627.97 1476.87 630.15 1460 630.8C1443.13 631.45 1429.42 630.7 1410.8 629C1392.18 627.3 1367.38 624.43 1348.3 620.6C1329.22 616.77 1308.88 610.85 1296.3 606C1283.72 601.15 1276.72 593.92 1272.8 591.5Z" fill="url(#g4)"/><path d="M1666.3 562.3L1642 560.5C1630 559.5 1620 558.5 1614.5 553.6C1616 551.5 1619 551.3 1624 551.3L1690.4 551.7C1695.5 552 1697.8 554.5 1696.6 557.5L1686.7 588.2C1685.3 592.6 1682.5 594.3 1680 593.6C1677.3 592.8 1676.3 591 1676.4 588.5L1677.1 568.9Z" fill="#50cde1"/>
<text x="1009" y="720.5" direction="rtl" class="fa" style="font-size:42.5px" textLength="581" lengthAdjust="spacingAndGlyphs">نمایش واگرایی مثبت و سیگنال خرید</text>
<text x="1542.7" y="771" direction="rtl" class="fa" style="font-size:30px" textLength="315" lengthAdjust="spacingAndGlyphs">عبور خط CMF از ناحیه</text>
<text x="1840.6" y="634" direction="rtl" class="fa" style="font-size:48px" textLength="245" lengthAdjust="spacingAndGlyphs">روند صعودی</text>
<path d="M1488.5 0L1511 53.5C1516 68 1521 79 1537 79H1719C1734 79 1739 68 1744 53.5L1766.5 0Z" fill="#f4f4f4"/>
<text x="1666" y="26.8" direction="rtl" style="font-family:'Vazirmatn','DejaVu Sans',sans-serif;font-size:21px;font-weight:200;fill:#555" textLength="115.5" lengthAdjust="spacingAndGlyphs">تریدینگ فایندر</text>
<text x="1550.5" y="54.6" style="font-family:'Oxanium','Liberation Sans',sans-serif;font-weight:300;font-size:17.6px;fill:#505050" textLength="115" lengthAdjust="spacingAndGlyphs">TradingFinder</text>
<g fill="none" stroke="#1ee6f0" stroke-width="2.1" stroke-linejoin="miter"><path d="M1685.5 33.5H1681.4V14.2H1689.5V31"/><path d="M1681.4 40.5L1695.5 25.9H1705.2V33.2H1692.8"/><path d="M1688.4 36.7V46H1705.2V54.6H1687.9L1681.4 47.6V40.5"/></g>
</svg>
</body></html>
